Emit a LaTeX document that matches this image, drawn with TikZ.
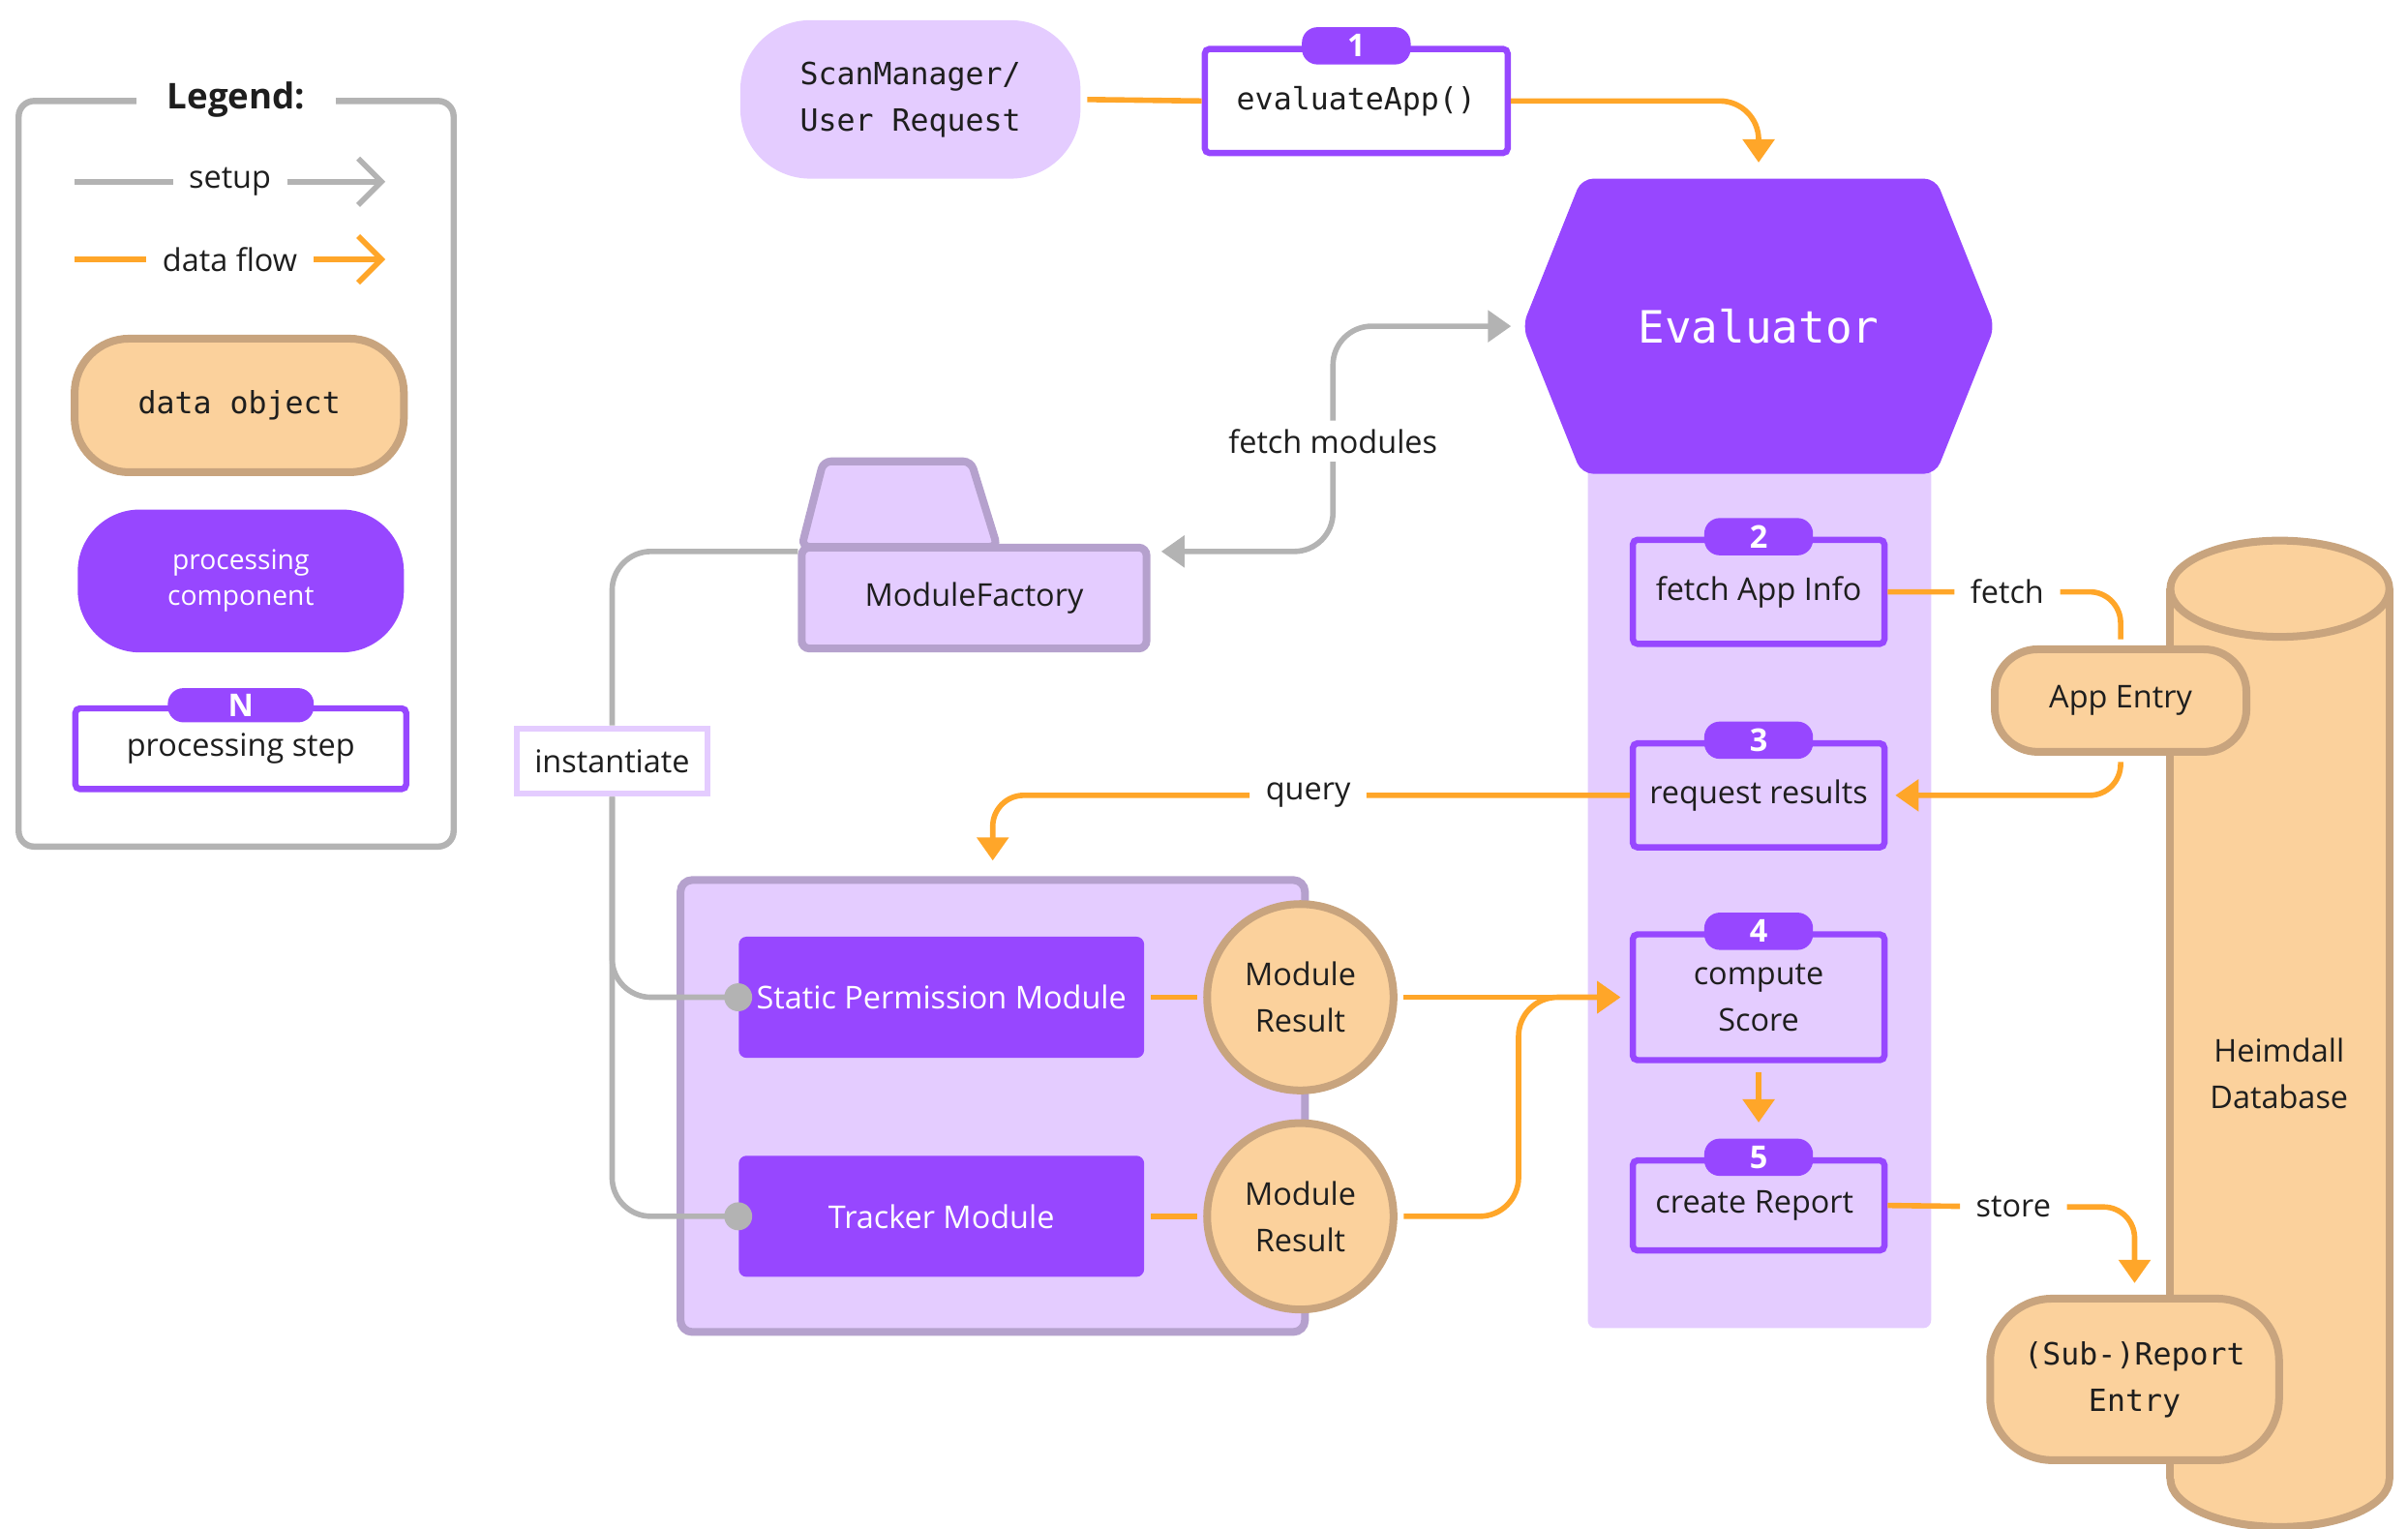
\documentclass[tikz,border=0pt]{standalone}
\usepackage{fontspec}
\setmainfont{Open Sans}
\setmonofont{DejaVu Sans Mono}
\usetikzlibrary{arrows.meta}
\definecolor{vio}{HTML}{9747FF}
\definecolor{lilac}{HTML}{E4CCFF}
\definecolor{amber}{HTML}{FFA629}
\definecolor{sand}{HTML}{FBD19C}
\definecolor{sandline}{HTML}{C8A47E}
\definecolor{ash}{HTML}{B3B3B3}
\definecolor{mauve}{HTML}{B5A1CD}
\definecolor{ink}{HTML}{1E1E1E}
\newcommand{\monofnt}{\ttfamily\fontsize{11.2}{17}\selectfont}

\begin{document}
\begin{tikzpicture}[x=0.02cm,y=-0.02cm,
  font=\fontsize{11.5}{17}\selectfont,text=ink,
  flow/.style={draw=amber,line width=0.7mm},
  setup/.style={draw=ash,line width=0.7mm},
  ftip/.style={-{Triangle[width=4mm,length=3mm]}},
  lbl/.style={fill=white,inner xsep=2mm,inner ysep=1mm},
  stepbox/.style={draw=vio,line width=0.8mm,fill=lilac,minimum width=32.4mm,align=center,rounded corners=0.6mm},
  steptab/.style={fill=vio,text=white,font=\bfseries\fontsize{11.5}{12}\selectfont,minimum width=14mm,minimum height=4.8mm,inner sep=0pt,rounded corners=2mm},
  dataobj/.style={draw=sandline,fill=sand,line width=1mm,align=center},
  comp/.style={fill=vio,text=white,align=center},
  dot/.style={circle,fill=ash,inner sep=0pt,minimum size=3.6mm}
]
\useasboundingbox (0,0) rectangle (1550,984);

\draw[ash,line width=0.8mm,rounded corners=2mm] (12,65) rectangle (292,545);
\node[fill=white,inner xsep=4mm,font=\bfseries\fontsize{13}{15}\selectfont] (lgtitle) at (152,64) {Legend:};
\node[inner xsep=2mm] (lgsetup) at (148,117) {setup};
\draw[setup] (48,117) -- (lgsetup);
\draw[setup,-{Straight Barb[width=6mm,length=3mm]}] (lgsetup) -- (248,117);
\node[inner xsep=2mm] (lgflow) at (148,167) {data flow};
\draw[flow] (48,167) -- (lgflow);
\draw[flow,-{Straight Barb[width=6mm,length=3mm]}] (lgflow) -- (248,167);
\node[dataobj,font=\monofnt,minimum width=42.4mm,minimum height=17.2mm,rounded corners=7mm] (lgdata) at (154,261) {data object};
\node[comp,minimum width=42mm,minimum height=18.4mm,rounded corners=8mm,font=\fontsize{10}{13}\selectfont] (lgcomp) at (155,374) {processing\\component};
\node[stepbox,fill=white,minimum width=42.6mm,minimum height=10.4mm] (lgstep) at (155,482) {\raisebox{-1mm}{processing step}};
\node[steptab,minimum width=18.8mm,minimum height=4.4mm] (lgtab) at (lgstep.north) {N};

\node[fill=lilac,minimum width=43.8mm,minimum height=20.4mm,rounded corners=9mm,align=center,font=\monofnt] (scan) at (586,64) {ScanManager/\\User Request};
\node[stepbox,fill=white,minimum width=39mm,minimum height=13.4mm,font=\monofnt] (s1) at (873,65) {evaluateApp()};
\node[steptab] (t1) at (s1.north) {1};
\draw[flow,shorten <=0.8mm] (scan.east) -- (s1.west);

\fill[lilac,rounded corners=1mm] (1022,300) rectangle (1243,855);
\fill[vio,rounded corners=1.5mm] (980,210) -- (1018,115) -- (1246,115) -- (1284,210) -- (1246,305) -- (1018,305) -- cycle;
\node[text=white,font=\ttfamily\fontsize{16.3}{18}\selectfont,minimum width=60.8mm,minimum height=38mm] (ev) at (1132,210) {Evaluator};
\draw[flow,ftip,rounded corners=5mm,shorten >=2mm] (s1.east) -| (ev.north);

\foreach \n/\x/\h/\t in {
2/{(1132,381)}/13.4/{fetch App Info},
3/{(1132,512)}/13.4/{request results},
4/{(1132,642)}/16.2/{compute\\Score},
5/{(1132,776)}/11.6/{create Report}
}
{
    \node[stepbox,minimum height=\h mm] (s\n) at \x {\t};
    \node[steptab] (t\n) at (s\n.north) {\n};
}
\draw[flow,ftip,shorten <=1.2mm,shorten >=2mm] (s4.south) -- (t5.north);

\fill[sand] (1467.5,952) ellipse [x radius=14.1mm,y radius=6.2mm];
\draw[sandline,line width=1mm] (1467.5,952) ellipse [x radius=14.1mm,y radius=6.2mm];
\fill[sand] (1397,379) rectangle (1538,952);
\draw[sandline,line width=1mm] (1397,379) -- (1397,952) (1538,379) -- (1538,952);
\filldraw[fill=sand,draw=sandline,line width=1mm] (1467.5,379) ellipse [x radius=14.1mm,y radius=6.2mm];
\node[align=center] (db) at (1467,691) {Heimdall\\Database};

\node[dataobj,minimum width=32.4mm,minimum height=13.2mm,rounded corners=5.5mm] (app) at (1365,451) {App Entry};
\node[dataobj,font=\monofnt,minimum width=37.2mm,minimum height=20.8mm,rounded corners=8mm] (report) at (1374,888) {(Sub-)Report\\Entry};
\node[lbl] (fl) at (1292,381) {fetch};
\draw[flow,rounded corners=4mm,shorten >=0.8mm] (s2.east) -- (fl) -| (app.north);
\draw[flow,ftip,rounded corners=4mm,shorten <=0.8mm,shorten >=1mm] (app.south) |- (s3.east);
\node[lbl] (sl) at (1296,777) {store};
\draw[flow,ftip,rounded corners=4mm,shorten >=1.5mm] (s5.east) -- (sl) -| (report.north);

\filldraw[fill=lilac,draw=mauve,line width=1mm,rounded corners=1mm] (516,352) -- (530,297) -- (625,297) -- (642,352) -- cycle;
\node[fill=lilac,draw=mauve,line width=1mm,rounded corners=1mm,minimum width=44.4mm,minimum height=13mm] (mf) at (627,385) {ModuleFactory};
\node[lbl] (fm) at (858,284) {fetch modules};
\draw[setup,ftip,rounded corners=5mm,shorten >=1.4mm] (fm) |- (ev.west);
\draw[setup,ftip,rounded corners=5mm,shorten >=1.4mm] (fm) |- ([yshift=-1mm]mf.north east);

\node[fill=lilac,draw=mauve,line width=1mm,rounded corners=1.5mm,minimum width=80.4mm,minimum height=58.2mm] (modules) at (639,712) {};
\node[comp,minimum width=52.2mm,minimum height=15.6mm,rounded corners=1mm] (spm) at (606,642) {Static Permission Module};
\node[comp,minimum width=52.2mm,minimum height=15.6mm,rounded corners=1mm] (tm) at (606,783) {Tracker Module};
\node[dataobj,circle,minimum size=24mm,inner sep=0pt] (mr1) at (837,642) {Module\\Result};
\node[dataobj,circle,minimum size=24mm,inner sep=0pt] (mr2) at (837,783) {Module\\Result};
\draw[flow,shorten <=0.8mm,shorten >=0.8mm] (spm.east) -- (mr1.west);
\draw[flow,shorten <=0.8mm,shorten >=0.8mm] (tm.east) -- (mr2.west);
\draw[flow,ftip,shorten <=0.8mm,shorten >=1.2mm] (mr1.east) -- (s4.west);
\draw[flow,ftip,rounded corners=5mm,shorten <=0.8mm,shorten >=1.2mm] (mr2.east) -- ++(15.6mm,0) |- (s4.west);
\node[lbl] (ql) at (842,512) {query};
\draw[flow,ftip,rounded corners=4mm,shorten >=2mm] (s3.west) -- (ql) -| (modules.north);

\node[draw=lilac,line width=0.8mm,fill=white,minimum width=24.6mm,minimum height=8.4mm] (inst) at (394,490) {instantiate};
\draw[setup,rounded corners=5mm] ([yshift=-1mm]mf.north west) -| (inst.north);
\draw[setup,rounded corners=5mm] (inst.south) |- (spm.west);
\draw[setup,rounded corners=5mm] (inst.south) |- (tm.west);
\node[dot] (d1) at (spm.west) {};
\node[dot] (d2) at (tm.west) {};
\end{tikzpicture}
\end{document}
